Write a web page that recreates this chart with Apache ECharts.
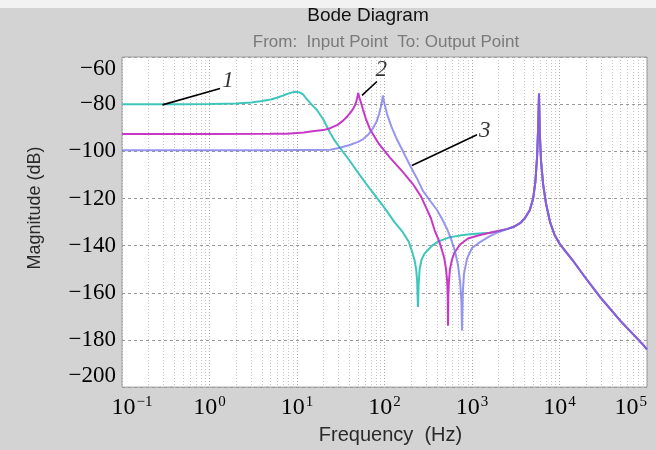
<!DOCTYPE html>
<html><head><meta charset="utf-8">
<script src="https://cdn.jsdelivr.net/npm/echarts@6/dist/echarts.min.js"></script>
<style>html,body{margin:0;padding:0;background:#d3d3d3}#c{width:656px;height:450px}</style>
</head><body><div id="c"></div>
<script>
// ---- data (frequency in Hz, magnitude in dB) ----
const cyanFreq = [0.1, 0.5, 1, 2, 3, 4, 5, 6, 7, 8, 9, 9.6, 10.5, 11.7, 13, 15, 16.9, 20, 23.8, 27, 31, 40, 52, 70, 100, 130, 162, 190, 206, 220, 230, 236, 241, 246, 252, 265, 285, 306, 350, 408, 550, 789, 1100, 1607, 2000];
const cyanMag  = [-80, -80, -79.9, -79.7, -79.3, -78.7, -78, -77.2, -76.3, -75.5, -74.9, -74.7, -74.9, -75.8, -78, -80.5, -82.5, -86.5, -92, -95.5, -98.5, -104, -110, -116.5, -124, -130, -134.3, -138.5, -142.4, -146, -150, -155, -166, -156, -150, -146, -143.5, -142.3, -140, -138.3, -136.5, -135.5, -135, -134.5, -133.8];

const magentaFreq = [0.1, 1, 5, 7.7, 12, 15, 20, 24, 29, 33.6, 38, 41, 43.8, 46, 48, 49.3, 50, 51, 52.5, 54.5, 56.8, 61, 68, 85, 116, 160, 212, 260, 300, 340, 378, 420, 450, 480, 505, 520, 528, 532, 537, 545, 560, 590, 630, 730, 900, 1233, 1607, 2000];
const magentaMag  = [-92.7, -92.7, -92.6, -92.5, -92, -91.5, -91, -90.2, -88.8, -87, -85, -83.5, -82, -80.5, -78.5, -76.5, -75.2, -76.5, -78, -80, -82.3, -86, -90.5, -96.5, -102.8, -108.5, -114, -119, -124, -128.5, -134, -138, -141.5, -145, -150, -155, -161, -174, -161, -155, -150, -146, -143, -139.5, -137, -135.5, -134.5, -133.8];

const blueFreq = [0.1, 1, 5, 10, 15, 24, 31, 40, 50, 57, 65, 73, 82, 87, 91, 94, 96, 98, 101, 107, 120, 139, 165, 196, 235, 275, 340, 400, 460, 520, 580, 640, 690, 730, 755, 769, 785, 810, 877, 1000, 1233, 1600, 2000];
const blueMag  = [-99.5, -99.5, -99.5, -99.4, -99.4, -99.3, -98.5, -97.3, -96, -94.8, -93, -90.5, -87, -84, -81, -78.5, -76.3, -78.5, -80.5, -84.2, -89.5, -95, -100.5, -106, -111.5, -116.8, -121.5, -125, -129, -133, -137.5, -142.5, -148, -155, -163, -176, -160, -152, -145.5, -141, -138.5, -136, -134.3];

// shared high-frequency mode (all three curves)
const highFreq = [2500, 3000, 3540, 4000, 4570, 5000, 5300, 5550, 5700, 5830, 5950, 6150, 6500, 7000, 7800, 8800, 10140, 14000, 19500, 29000, 50000, 90000, 100000];
const highMag  = [-133, -132, -130.5, -128.5, -125, -120, -113, -102, -90, -75.5, -92, -104, -114, -122, -130, -135.5, -139.5, -146, -153.3, -161.7, -172, -182, -184];

const xTicks = [0.1, 1, 10, 100, 1000, 10000, 100000];
const yTicks = [-200, -180, -160, -140, -120, -100, -80, -60];

// annotation leaders (data coords) and numbers
const annoFrom = [[0.29, -80.3], [55.3, -76.3], [206, -106]];
const annoTo   = [[1.32, -73.4], [82, -70.4], [1140, -93]];
const annoText = ['1', '2', '3'];
const annoPos  = [[1.63, -70.2], [92, -65.6], [1400, -91.2]];

function pairs(f, m) { return f.map((v, i) => [v, m[i]]); }
const cyanData = pairs(cyanFreq.concat(highFreq), cyanMag.concat(highMag));
const magentaData = pairs(magentaFreq.concat(highFreq), magentaMag.concat(highMag));
const blueData = pairs(blueFreq.concat(highFreq), blueMag.concat(highMag));

const chart = echarts.init(document.getElementById('c'), null, {renderer: 'canvas'});
const serif = '"Liberation Serif", "Times New Roman", serif';
const sans = '"Liberation Sans", Arial, Helvetica, sans-serif';

chart.setOption({
  animation: false,
  backgroundColor: '#d3d3d3',
  grid: {left: 122, right: 9, top: 57, bottom: 49, containLabel: false, show: true,
         backgroundColor: '#ffffff', borderColor: '#9c9c9c', borderWidth: 1},
  xAxis: {
    type: 'log', logBase: 10, min: xTicks[0], max: xTicks[xTicks.length - 1],
    axisLine: {show: false}, axisTick: {show: false},
    minorTick: {show: false, splitNumber: 9},
    splitLine: {show: true, lineStyle: {color: '#a8a8a8', width: 1, type: [1, 2]}},
    minorSplitLine: {show: true, lineStyle: {color: '#c6c6c6', width: 1, type: [1, 2]}},
    axisLabel: {
      margin: 7, alignMaxLabel: 'right', color: '#000',
      formatter: function (v) {
        const e = Math.round(Math.log10(v));
        const s = String(e).replace('-', '\u2212');
        return (e === -1 ? '{p|}' : '') + '{b|10}{s|' + s + '}';
      },
      rich: {
        p: {width: 20, fontSize: 24, lineHeight: 26},
        b: {fontFamily: serif, fontSize: 24, color: '#000', verticalAlign: 'bottom', lineHeight: 26},
        s: {fontFamily: serif, fontSize: 15, color: '#000', verticalAlign: 'top', lineHeight: 26, padding: [0, 0, 0, 1]}
      }
    },
    name: 'Frequency  (Hz)', nameLocation: 'middle', nameGap: 27,
    nameTextStyle: {fontFamily: sans, fontSize: 20, color: '#2a2a2a', verticalAlign: 'top', padding: [0, 0, 0, 12]}
  },
  yAxis: {
    type: 'value', min: yTicks[0], max: yTicks[yTicks.length - 1], interval: 20,
    axisLine: {show: false}, axisTick: {show: false},
    splitLine: {show: true, lineStyle: {color: '#9a9a9a', width: 1, type: [3, 3]}},
    axisLabel: {
      margin: 6, color: '#000', fontFamily: serif, fontSize: 23,
      verticalAlignMinLabel: 'bottom', verticalAlignMaxLabel: 'top',
      formatter: v => String(v).replace('-', '\u2212')
    }
  },
  graphic: [
    {type: 'rect', shape: {x: 0, y: 0, width: 656, height: 8}, style: {fill: '#f2f2f2'}, silent: true},
    {type: 'text', x: 368, y: 16, style: {text: 'Bode Diagram', font: '19px ' + sans, fill: '#111', align: 'center', verticalAlign: 'middle'}, silent: true},
    {type: 'text', x: 386, y: 42, style: {text: 'From:  Input Point  To: Output Point', font: '17px ' + sans, fill: '#7a7a7a', align: 'center', verticalAlign: 'middle'}, silent: true},
    {type: 'text', x: 35, y: 208, rotation: Math.PI / 2, style: {text: 'Magnitude (dB)', font: '18px ' + sans, fill: '#2a2a2a', align: 'center', verticalAlign: 'middle'}, silent: true}
  ],
  series: [
    {type: 'line', name: '1', data: cyanData, showSymbol: false, symbol: 'none', clip: true,
     lineStyle: {color: '#3fc6bc', width: 2}, z: 3},
    {type: 'line', name: '2', data: magentaData, showSymbol: false, symbol: 'none', clip: true,
     lineStyle: {color: '#c838c6', width: 2}, z: 4},
    {type: 'line', name: '3', data: blueData, showSymbol: false, symbol: 'none', clip: true,
     lineStyle: {color: '#6e6ee8', width: 2, opacity: 0.72}, z: 5},
    {type: 'lines', coordinateSystem: 'cartesian2d', z: 6, silent: true,
     lineStyle: {color: '#000', width: 1.6, opacity: 1},
     data: annoFrom.map((p, i) => ({coords: [p, annoTo[i]]}))},
    {type: 'scatter', z: 7, silent: true, symbolSize: 1, itemStyle: {color: 'rgba(0,0,0,0)'},
     data: annoPos.map((p, i) => [p[0], p[1], annoText[i]]),
     label: {show: true, position: 'inside', formatter: p => p.value[2],
             fontFamily: serif, fontStyle: 'italic', fontSize: 23, color: '#000'}}
  ]
});
</script></body></html>
